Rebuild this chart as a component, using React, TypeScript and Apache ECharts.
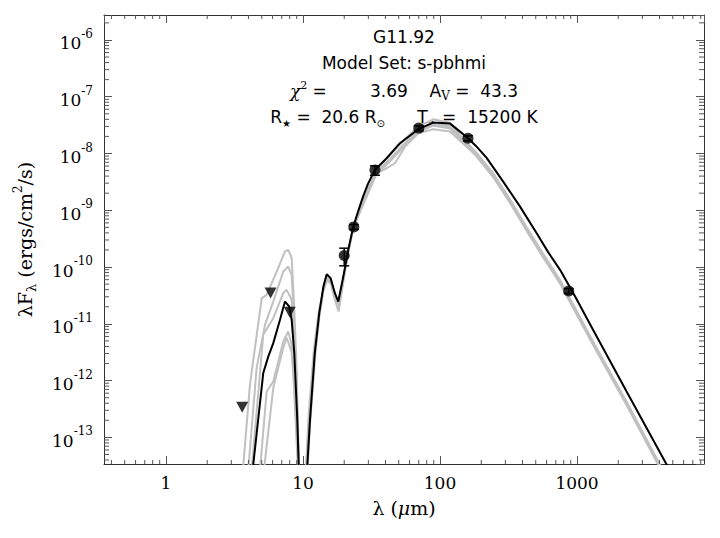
import React, { useEffect, useRef } from "react";
import * as echarts from "echarts";

// Axis extents (wavelength in micron, lambda*F_lambda in ergs/cm^2/s)
const xRange = [0.353, 8450];
const yRange = [3.4e-14, 2.75e-6];

// Photometry with errors
const photWave = [20, 23.5, 33.5, 70, 160, 870];
const photFlux = [1.6e-10, 5.1e-10, 5.1e-9, 2.8e-8, 1.86e-8, 3.8e-11];
const photErr = [0.55e-10, 0.5e-10, 0.95e-9, 2.8e-9, 1.9e-9, 3.8e-12];

// Upper limits
const limitWave = [3.6, 5.8, 8.0];
const limitFlux = [3.4e-13, 3.5e-11, 1.6e-11];

// Best-fitting model SED [wavelength, flux]
const bestFit: [number, number][] = [
  [4.14, 1.2e-14], [5.13, 1.36e-12], [5.58, 2.65e-12], [6.07, 4.57e-12], [6.79, 1.17e-11],
  [7.39, 2.47e-11], [7.94, 2.02e-11], [8.27, 1.17e-11], [8.64, 3.08e-12], [9.09, 2.04e-13],
  [9.43, 1.2e-14], [10.0, 1e-16], [10.5, 1.2e-14], [11.25, 2.04e-13], [12.2, 3.08e-12],
  [13.15, 1.56e-11], [14.1, 4.54e-11], [14.9, 7.5e-11], [15.9, 6.38e-11], [17.1, 3.47e-11],
  [18.1, 2.47e-11], [19.7, 6.8e-11], [21.4, 2.01e-10], [23.3, 5.16e-10], [25.2, 9.37e-10],
  [27.4, 1.72e-9], [29.8, 2.92e-9], [33.5, 5.14e-9], [40.8, 8.26e-9], [51.0, 1.52e-8],
  [69.5, 2.68e-8], [89.4, 3.5e-8], [118, 3.39e-8], [140, 2.43e-8], [158, 1.92e-8],
  [183, 1.36e-8], [219, 8.38e-9], [290, 3.16e-9], [384, 1.16e-9], [508, 3.95e-10],
  [614, 1.85e-10], [752, 8.93e-11], [967, 3.05e-11], [1315, 7.69e-12],
  [2306, 6.35e-13], [4518, 3.3e-14], [5190, 1.76e-14],
];

// Other good fits
const altFit1: [number, number][] = [
  [3.56, 1.2e-14], [3.67, 3.3e-14], [4.1, 8.43e-13], [5.0, 2.83e-11], [5.43, 3.24e-11],
  [6.43, 8.34e-11], [7.39, 1.88e-10], [7.81, 2.01e-10], [8.27, 1.44e-10], [8.59, 2.47e-11],
  [8.99, 1.68e-12], [9.43, 1.2e-14], [9.9, 1e-16],
  [10.3, 1.2e-14], [11.0, 2.5e-13], [12.0, 3.4e-12], [13.0, 1.6e-11], [14.1, 4.0e-11],
  [15.0, 6.2e-11], [16.0, 5.4e-11], [17.1, 2.9e-11], [18.2, 1.8e-11], [19.7, 5.9e-11],
  [21.4, 1.85e-10], [23.3, 4.9e-10],
  [26.1, 1.1e-9], [34.5, 5.4e-9], [43.2, 9.4e-9], [55.6, 1.8e-8], [69.5, 3.0e-8],
  [89.4, 4.0e-8], [118, 3.5e-8], [140, 2.1e-8], [183, 1.06e-8], [245, 4.45e-9],
  [330, 1.46e-9], [430, 4.97e-10], [560, 1.79e-10], [752, 5.9e-11], [1315, 4.8e-12],
  [2306, 4.2e-13], [3970, 3.55e-14], [4613, 1.78e-14],
];
const altFit2: [number, number][] = [
  [3.88, 1.2e-14], [4.59, 1.68e-12], [5.28, 9.6e-12], [6.07, 2.47e-11], [7.18, 8.34e-11],
  [7.81, 1.02e-10], [8.27, 7.3e-11], [8.59, 1.17e-11], [8.99, 8.43e-13], [9.43, 1.2e-14],
  [9.9, 1e-16],
  [10.4, 1.2e-14], [11.1, 2.2e-13], [12.1, 3.2e-12], [13.1, 1.5e-11], [14.1, 4.2e-11],
  [15.0, 6.8e-11], [16.0, 5.9e-11], [17.1, 3.1e-11], [18.2, 2.0e-11], [19.7, 6.2e-11],
  [21.4, 1.9e-10], [23.3, 5.0e-10],
  [26.1, 1.04e-9], [34.5, 4.93e-9], [43.2, 8.0e-9], [55.6, 1.54e-8], [69.5, 2.6e-8],
  [89.4, 3.45e-8], [118, 3.06e-8], [140, 1.96e-8], [183, 1.02e-8], [245, 4.26e-9],
  [330, 1.4e-9], [430, 4.78e-10], [560, 1.73e-10], [752, 5.7e-11], [1315, 4.63e-12],
  [2306, 4.07e-13], [3970, 3.43e-14], [4613, 1.72e-14],
];
const altFit3: [number, number][] = [
  [4.1, 1.2e-14], [5.13, 6.4e-12], [6.07, 1.26e-11], [7.18, 3.48e-11], [7.6, 3.97e-11],
  [8.27, 2.65e-11], [8.59, 5.22e-12], [8.99, 4.59e-13], [9.43, 1.2e-14], [9.9, 1e-16],
  [10.5, 1.2e-14], [11.25, 2.0e-13], [12.2, 3.0e-12], [13.15, 1.5e-11], [14.1, 4.4e-11],
  [14.9, 7.2e-11], [15.9, 6.1e-11], [17.1, 3.3e-11], [18.1, 2.3e-11], [19.7, 6.5e-11],
  [21.4, 1.95e-10], [23.3, 5.05e-10],
  [26.1, 1.0e-9], [34.5, 4.74e-9], [43.2, 7.71e-9], [55.6, 1.48e-8], [69.5, 2.5e-8],
  [89.4, 3.32e-8], [118, 2.94e-8], [140, 1.88e-8], [183, 9.8e-9], [245, 4.1e-9],
  [330, 1.35e-9], [430, 4.6e-10], [560, 1.66e-10], [752, 5.48e-11], [1315, 4.45e-12],
  [2306, 3.91e-13], [3970, 3.3e-14], [4613, 1.65e-14],
];
const altFit4: [number, number][] = [
  [4.72, 1.2e-14], [5.43, 6.43e-13], [6.07, 9.63e-13], [7.18, 4.88e-12], [7.81, 7.31e-12],
  [8.27, 4.27e-12], [8.59, 1.03e-12], [9.04, 9.1e-14], [9.43, 1.2e-14], [9.9, 1e-16],
  [10.6, 1.2e-14], [11.3, 1.9e-13], [12.3, 2.8e-12], [13.2, 1.4e-11], [14.1, 3.8e-11],
  [15.0, 5.8e-11], [16.0, 5.1e-11], [17.1, 2.6e-11], [18.2, 1.65e-11], [19.7, 5.6e-11],
  [21.4, 1.8e-10], [23.3, 4.8e-10],
  [26.1, 0.97e-9], [34.5, 4.5e-9], [40.8, 5.5e-9], [46.9, 6.74e-9], [55.6, 1.32e-8],
  [69.5, 2.27e-8], [89.4, 2.68e-8], [118, 2.43e-8], [140, 1.67e-8], [183, 9.4e-9],
  [245, 3.94e-9], [330, 1.3e-9], [430, 4.42e-10], [560, 1.59e-10], [752, 5.25e-11],
  [1315, 4.27e-12], [2306, 3.75e-13], [3970, 3.17e-14], [4613, 1.58e-14],
];
const altFit5: [number, number][] = [
  [5.0, 1.2e-14], [6.07, 7.47e-13], [7.18, 3.78e-12], [7.6, 5.67e-12], [8.27, 3.21e-12],
  [8.59, 8.43e-13], [9.04, 6.1e-14], [9.43, 1.2e-14], [9.9, 1e-16],
  [10.5, 1.2e-14], [11.2, 2.1e-13], [12.2, 3.0e-12], [13.15, 1.45e-11], [14.1, 4.1e-11],
  [15.0, 6.5e-11], [16.0, 5.7e-11], [17.1, 3.0e-11], [18.2, 1.9e-11], [19.7, 6.0e-11],
  [21.4, 1.9e-10], [23.3, 4.95e-10],
  [26.1, 0.95e-9], [34.5, 4.45e-9], [43.2, 7.25e-9], [55.6, 1.39e-8], [69.5, 2.35e-8],
  [89.4, 3.12e-8], [118, 2.76e-8], [140, 1.77e-8], [183, 9.1e-9], [245, 3.81e-9],
  [330, 1.26e-9], [430, 4.28e-10], [560, 1.54e-10], [752, 5.15e-11], [1315, 4.18e-12],
  [2306, 3.68e-13], [3970, 3.1e-14], [4613, 1.55e-14],
];
const altFits = [altFit1, altFit2, altFit3, altFit4, altFit5];

// Fit summary
const sourceName = "G11.92";
const modelSet = "s-pbhmi";
const chi2 = "3.69";
const av = "43.3";
const rStar = "20.6";
const tStar = "15200";

const lg = Math.log10;
const toLog = (pts: [number, number][]) => pts.map(([w, f]) => [lg(w), lg(f)]);

const xMin = lg(xRange[0]);
const xMax = lg(xRange[1]);
const yMin = lg(yRange[0]);
const yMax = lg(yRange[1]);

function minorTicks(lo: number, hi: number): number[] {
  const out: number[] = [];
  for (let d = Math.floor(lo) - 1; d <= Math.ceil(hi); d++) {
    for (let k = 2; k <= 9; k++) {
      const v = d + lg(k);
      if (v > lo && v < hi) out.push(v);
    }
  }
  return out;
}

const SERIF = "DejaVu Serif";
const SANS = "DejaVu Sans";
const TICK = "#555";
const NB = "\u00a0";
const sp = (n: number) => NB.repeat(n);

export default function App() {
  const ref = useRef<HTMLDivElement>(null);

  useEffect(() => {
    document.body.style.margin = "0";
    if (!ref.current) return;
    const chart = echarts.init(ref.current, undefined, { renderer: "svg" });

    const tickLine = (x1: number, y1: number, x2: number, y2: number) => ({
      type: "line",
      shape: { x1, y1, x2, y2 },
      style: { stroke: TICK, lineWidth: 1 },
    });

    const xAxisBase = {
      type: "value",
      min: xMin,
      max: xMax,
      minInterval: 1,
      maxInterval: 1,
      splitLine: { show: false },
      axisLine: { show: true, onZero: false, lineStyle: { color: "#333", width: 1 } },
      axisTick: { show: true, inside: true, length: 8, lineStyle: { color: TICK, width: 1 } },
    };
    const yAxisBase = {
      type: "value",
      min: yMin,
      max: yMax,
      minInterval: 1,
      maxInterval: 1,
      splitLine: { show: false },
      axisLine: { show: true, onZero: false, lineStyle: { color: "#333", width: 1 } },
      axisTick: { show: true, inside: true, length: 8, lineStyle: { color: TICK, width: 1 } },
    };

    const textLine = (y: number, text: string, rich: any) => ({
      type: "text",
      x: 404,
      y,
      z: 0,
      style: {
        text,
        rich,
        fill: "#000",
        fontFamily: SANS,
        fontSize: 17,
        align: "center",
        verticalAlign: "middle",
        textAlign: "center",
        textVerticalAlign: "middle",
      },
    });

    const annRich = {
      t: { fontFamily: SANS, fontSize: 17, lineHeight: 22, verticalAlign: "middle", fill: "#000", color: "#000" },
      chi: { fontFamily: SERIF, fontStyle: "italic", fontSize: 17, lineHeight: 22, fill: "#000", color: "#000" },
      sup: { fontFamily: SERIF, fontSize: 11, lineHeight: 12, verticalAlign: "top", fill: "#000", color: "#000" },
      sub: { fontFamily: SERIF, fontSize: 12, lineHeight: 12, verticalAlign: "bottom", fill: "#000", color: "#000" },
      star: { fontFamily: SANS, fontSize: 10, lineHeight: 12, verticalAlign: "bottom", fill: "#000", color: "#000" },
      sun: { fontFamily: SANS, fontSize: 10, lineHeight: 10, verticalAlign: "bottom", fill: "#000", color: "#000" },
    };

    chart.setOption({
      animation: false,
      backgroundColor: "#fff",
      grid: { left: 104, right: 16, top: 15, bottom: 74, containLabel: false, outerBoundsMode: "none" },
      xAxis: [
        {
          ...xAxisBase,
          position: "bottom",
          axisLabel: {
            showMinLabel: false,
            showMaxLabel: false,
            margin: 10,
            fontFamily: SERIF,
            fontSize: 17,
            color: "#000",
            formatter: (v: number) => String(Math.round(Math.pow(10, Math.round(v)))),
          },
          name: "{t|λ (}{i|μ}{t|m)}",
          nameLocation: "middle",
          nameGap: 34,
          nameTextStyle: {
            fontFamily: SERIF,
            fontSize: 19,
            color: "#000",
            rich: {
              t: { fontFamily: SERIF, fontSize: 19, color: "#000" },
              i: { fontFamily: SERIF, fontStyle: "italic", fontSize: 19, color: "#000" },
            },
          },
        },
        { ...xAxisBase, position: "top", axisLabel: { show: false } },
      ],
      yAxis: [
        {
          ...yAxisBase,
          position: "left",
          axisLabel: {
            showMinLabel: false,
            showMaxLabel: false,
            margin: 11,
            color: "#000",
            formatter: (v: number) => `{b|10}{s|${Math.round(v)}}`,
            rich: {
              b: { fontFamily: SERIF, fontSize: 17, lineHeight: 24, verticalAlign: "bottom", color: "#000" },
              s: { fontFamily: SERIF, fontSize: 12, lineHeight: 12, verticalAlign: "top", color: "#000" },
            },
          },
          name: "{t|λF}{sub|λ}{t| (ergs/cm}{sup|2}{t|/s)}",
          nameLocation: "middle",
          nameGap: 66,
          nameTextStyle: {
            color: "#000",
            rich: {
              t: { fontFamily: SERIF, fontSize: 19, lineHeight: 26, verticalAlign: "middle", color: "#000" },
              sub: { fontFamily: SERIF, fontSize: 13, lineHeight: 13, verticalAlign: "bottom", color: "#000" },
              sup: { fontFamily: SERIF, fontSize: 12, lineHeight: 12, verticalAlign: "top", color: "#000" },
            },
          },
        },
        { ...yAxisBase, position: "right", axisLabel: { show: false } },
      ],
      graphic: {
        elements: [
          textLine(37, `{t|${sourceName}}`, annRich),
          textLine(63, `{t|Model Set: ${modelSet}}`, annRich),
          textLine(
            91,
            `{chi|χ}{sup|2}{t|${NB}=${sp(8)}${chi2}${sp(4)}A}{sub|V}{t|${NB}=${sp(2)}${av}}`,
            annRich
          ),
          textLine(
            117,
            `{t|R}{star|★}{t|${NB}=${sp(2)}${rStar}${NB}R}{sun|⊙}{t|${sp(6)}T}{star|★}{t|${NB}=${sp(2)}${tStar}${NB}K}`,
            annRich
          ),
        ],
      },
      series: [
        ...altFits.map((fit) => ({
          type: "line",
          data: toLog(fit),
          showSymbol: false,
          symbol: "none",
          clip: true,
          silent: true,
          z: 2,
          lineStyle: { color: "#c0c0c0", width: 2 },
        })),
        {
          type: "line",
          data: toLog(bestFit),
          showSymbol: false,
          symbol: "none",
          clip: true,
          silent: true,
          z: 3,
          lineStyle: { color: "#000", width: 2 },
        },
        {
          type: "custom",
          z: 4,
          silent: true,
          data: photWave.map((w, i) => [lg(w), lg(photFlux[i] - photErr[i]), lg(photFlux[i] + photErr[i])]),
          encode: { x: 0, y: [1, 2] },
          renderItem: (_params: any, api: any) => {
            const lo = api.coord([api.value(0), api.value(1)]);
            const hi = api.coord([api.value(0), api.value(2)]);
            const hw = 5;
            const st = { stroke: "#000", lineWidth: 1.5 };
            return {
              type: "group",
              children: [
                { type: "line", shape: { x1: lo[0], y1: lo[1], x2: hi[0], y2: hi[1] }, style: st },
                { type: "line", shape: { x1: lo[0] - hw, y1: lo[1], x2: lo[0] + hw, y2: lo[1] }, style: st },
                { type: "line", shape: { x1: hi[0] - hw, y1: hi[1], x2: hi[0] + hw, y2: hi[1] }, style: st },
              ],
            };
          },
        },
        {
          type: "scatter",
          z: 5,
          silent: true,
          symbol: "circle",
          symbolSize: 11,
          itemStyle: { color: "#000" },
          data: photWave.map((w, i) => [lg(w), lg(photFlux[i])]),
        },
        {
          type: "scatter",
          z: 5,
          silent: true,
          symbol: "triangle",
          symbolRotate: 180,
          symbolSize: [12, 11],
          itemStyle: { color: "#000" },
          data: limitWave.map((w, i) => [lg(w), lg(limitFlux[i])]),
        },
        {
          // minor ticks on the bottom and top axes
          type: "custom",
          z: 6,
          silent: true,
          data: minorTicks(xMin, xMax).map((v) => [v, yMin]),
          renderItem: (params: any, api: any) => {
            const cs = params.coordSys;
            const p = api.coord([api.value(0), api.value(1)]);
            const x = p[0];
            const b = cs.y + cs.height;
            return {
              type: "group",
              children: [tickLine(x, b, x, b - 4), tickLine(x, cs.y, x, cs.y + 4)],
            };
          },
        },
        {
          // minor ticks on the left and right axes
          type: "custom",
          z: 6,
          silent: true,
          data: minorTicks(yMin, yMax).map((v) => [xMin, v]),
          renderItem: (params: any, api: any) => {
            const cs = params.coordSys;
            const p = api.coord([api.value(0), api.value(1)]);
            const y = p[1];
            const r = cs.x + cs.width;
            return {
              type: "group",
              children: [tickLine(cs.x, y, cs.x + 5, y), tickLine(r, y, r - 5, y)],
            };
          },
        },
      ],
    });

    return () => chart.dispose();
  }, []);

  return <div ref={ref} style={{ width: 720, height: 538 }} />;
}
